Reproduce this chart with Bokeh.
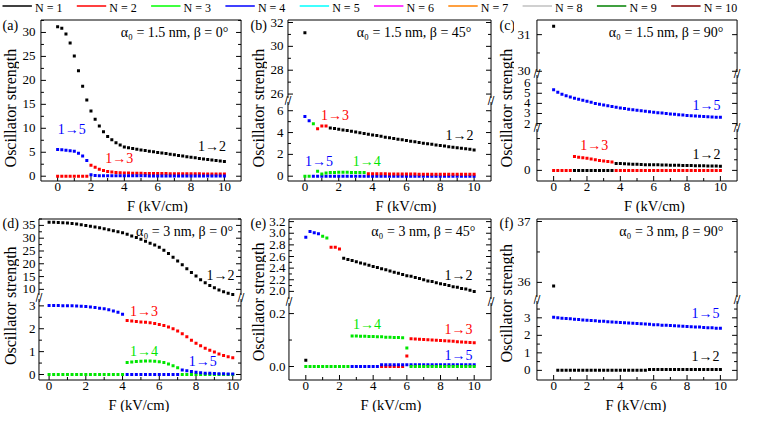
from bokeh.plotting import figure
from bokeh.models import Label, FixedTicker, Range1d
from bokeh.layouts import row, column
from bokeh.embed import file_html
from bokeh.resources import INLINE
from bokeh.core.properties import value

FONT = "Liberation Serif, Times New Roman, serif"
BLACK, RED, GREEN, BLUE = "#000000", "#FF0000", "#00E600", "#0000FF"

LEGEND_LABELS = ["N = 1", "N = 2", "N = 3", "N = 4", "N = 5",
                 "N = 6", "N = 7", "N = 8", "N = 9", "N = 10"]
LEGEND_COLORS = ["#000000", "#FF0000", "#00FF00", "#0000FF", "#00FFFF",
                 "#FF00FF", "#FF8000", "#C0C0C0", "#008000", "#800000"]

FIELD = [0, 0.25, 0.5, 0.75, 1, 1.25, 1.5, 1.75, 2, 2.25, 2.5, 2.75, 3, 3.25, 3.5,
         3.75, 4, 4.25, 4.5, 4.75, 5, 5.25, 5.5, 5.75, 6, 6.25, 6.5, 6.75, 7, 7.25,
         7.5, 7.75, 8, 8.25, 8.5, 8.75, 9, 9.25, 9.5, 9.75, 10]
X_TICKS = [0, 2, 4, 6, 8, 10]
X_MINOR = [1, 3, 5, 7, 9]

# ---- panel (a): alpha0 = 1.5 nm, beta = 0
A_12 = [31.2, 30.9, 29.7, 27.8, 25.1, 22.0, 18.8, 15.9, 13.6, 11.9, 10.5, 9.3, 8.3, 7.6,
        7.0, 6.5, 6.1, 5.93, 5.78, 5.63, 5.48, 5.35, 5.22, 5.09, 4.96, 4.84, 4.72, 4.58,
        4.46, 4.33, 4.2, 4.08, 3.96, 3.84, 3.72, 3.6, 3.49, 3.38, 3.27, 3.16, 3.05]
A_13 = [0, 0, 0, 0, 0, 0, 0, 0, 2.3, 1.85, 1.45, 1.2, 0.97, 0.86, 0.78, 0.72, 0.68, 0.65,
        0.63, 0.61, 0.6, 0.59, 0.58, 0.57, 0.56, 0.55, 0.54, 0.53, 0.52, 0.52, 0.51, 0.5,
        0.5, 0.49, 0.49, 0.48, 0.48, 0.47, 0.47, 0.46, 0.46]
A_15 = [5.6, 5.5, 5.4, 5.3, 5.2, 4.8, 4.2, 3.3, 0.3, 0.15, 0.12, 0.1, 0.1, 0.09, 0.09,
        0.08, 0.08, 0.08, 0.07, 0.07, 0.07, 0.07, 0.06, 0.06, 0.06, 0.06, 0.06, 0.05,
        0.05, 0.05, 0.05, 0.05, 0.05, 0.05, 0.04, 0.04, 0.04, 0.04, 0.04, 0.04, 0.04]

# ---- panel (b): alpha0 = 1.5 nm, beta = 45
B_UP_12 = [31.15]
B_TOP_15 = [5.47, 5.09]
B_TOP_14 = [4.8]
B_TOP_13 = [4.35, 4.6, 4.6]
B_TOP_12 = [4.42, 4.36, 4.3, 4.24, 4.18, 4.11, 4.05, 3.98, 3.92, 3.85, 3.78, 3.72, 3.65,
            3.58, 3.52, 3.46, 3.39, 3.33, 3.27, 3.21, 3.15, 3.09, 3.03, 2.98, 2.92, 2.87,
            2.81, 2.76, 2.71, 2.66, 2.61, 2.56, 2.51, 2.46, 2.41]
B_LOW_14_F = FIELD[0:2] + FIELD[3:15]
B_LOW_14 = [0, 0, 0.45, 0.2, 0.3, 0.33, 0.35, 0.36, 0.36, 0.36, 0.35, 0.35, 0.34, 0.34]
B_LOW_15 = [0, 0, 0, 0, 0, 0, 0, 0, 0, 0, 0, 0, 0, 0, 0, 0, 0, 0, 0, 0, 0, 0, 0, 0, 0,
            0, 0, 0, 0, 0, 0, 0, 0, 0, 0, 0, 0, 0, 0]
B_LOW_13 = [0.23, 0.23, 0.22, 0.22, 0.22, 0.21, 0.21, 0.21, 0.2, 0.2, 0.2, 0.2, 0.19,
            0.19, 0.19, 0.19, 0.18, 0.18, 0.18, 0.18, 0.18, 0.17, 0.17, 0.17, 0.17, 0.17]

# ---- panel (c): alpha0 = 1.5 nm, beta = 90
C_UP_12 = [31.23]
C_MID_15 = [5.35, 5.1, 4.9, 4.75, 4.62, 4.5, 4.4, 4.3, 4.2, 4.1, 4.0, 3.92, 3.84, 3.76,
            3.69, 3.62, 3.55, 3.49, 3.43, 3.37, 3.32, 3.27, 3.22, 3.17, 3.12, 3.08, 3.04,
            3.0, 2.96, 2.92, 2.88, 2.85, 2.81, 2.78, 2.75, 2.72, 2.69, 2.67, 2.65, 2.63, 2.62]
C_LOW_13 = [0, 0, 0, 0, 0, 0.65, 0.62, 0.6, 0.57, 0.54, 0.5, 0.47, 0.44, 0.42, 0.4,
            0, 0, 0, 0, 0, 0, 0, 0, 0, 0, 0, 0, 0, 0, 0, 0, 0, 0, 0, 0, 0, 0, 0, 0, 0, 0]
C_LOW_12 = [0, 0, 0, 0, 0, 0, 0, 0, 0, 0, 0.33, 0.32, 0.31, 0.3, 0.29, 0.29, 0.28, 0.27,
            0.27, 0.26, 0.26, 0.25, 0.25, 0.24, 0.24, 0.24, 0.23, 0.23, 0.23, 0.22, 0.22,
            0.22, 0.21, 0.21, 0.21, 0.2]

# ---- panel (d): alpha0 = 3 nm, beta = 0
D_UP_12 = [36.2, 36.2, 36.1, 36.0, 35.9, 35.7, 35.5, 35.3, 35.0, 34.7, 34.4, 34.1, 33.7,
           33.3, 32.9, 32.5, 32.1, 31.5, 30.9, 30.3, 29.6, 28.8, 28.0, 27.3, 26.5, 25.3,
           24.0, 22.6, 21.1, 19.6, 18.1, 16.6, 15.2, 13.8, 12.6, 11.5, 10.6, 9.8, 9.1,
           8.5, 8.0]
D_LOW_15 = [3.02, 3.02, 3.02, 3.01, 3.01, 3.0, 2.99, 2.98, 2.97, 2.95, 2.93, 2.9, 2.87,
            2.83, 2.78, 2.72, 2.63, 0, 0, 0, 0, 0, 0, 0, 0, 0, 0, 0, 0, 0.2, 0.16, 0.13,
            0.1, 0.08, 0.06, 0.05, 0.04, 0.03, 0.03, 0.02, 0.02]
D_LOW_13 = [2.36, 2.34, 2.32, 2.3, 2.28, 2.26, 2.23, 2.19, 2.14, 2.08, 2.0, 1.9, 1.78,
            1.65, 1.5, 1.37, 1.26, 1.15, 1.06, 0.98, 0.9, 0.83, 0.78, 0.73]
D_LOW_14 = [0, 0, 0, 0, 0, 0, 0, 0, 0, 0, 0, 0, 0, 0, 0, 0, 0, 0.52, 0.55, 0.57, 0.58,
            0.59, 0.59, 0.58, 0.56, 0.52, 0.46, 0.38, 0.3, 0, 0, 0, 0, 0, 0, 0, 0, 0, 0,
            0, 0]

# ---- panel (e): alpha0 = 3 nm, beta = 45
E_UP_15 = [2.93, 3.03, 3.01, 2.99]
E_UP_14 = [2.95, 2.92]
E_UP_13 = [2.76, 2.76, 2.73]
E_UP_12 = [2.57, 2.55, 2.53, 2.51, 2.49, 2.47, 2.45, 2.43, 2.41, 2.39, 2.37, 2.35, 2.33,
           2.31, 2.29, 2.27, 2.26, 2.24, 2.22, 2.2, 2.18, 2.17, 2.15, 2.13, 2.12, 2.1,
           2.08, 2.07, 2.05, 2.04, 2.02, 2.0]
E_LOW_12 = [0.024]
E_LOW_14 = [0, 0, 0, 0, 0, 0, 0, 0, 0, 0, 0, 0.115, 0.115, 0.114, 0.114, 0.113, 0.113,
            0.112, 0.112, 0.111, 0.111, 0.11, 0.11, 0.109, 0.07, 0, 0, 0, 0, 0, 0, 0, 0,
            0, 0, 0, 0, 0, 0, 0, 0]
E_LOW_13 = [0, 0, 0, 0, 0, 0, 0.04, 0.105, 0.104, 0.103, 0.102, 0.101, 0.1, 0.099, 0.098,
            0.097, 0.096, 0.095, 0.094, 0.093, 0.092, 0.091, 0.09]
E_LOW_15 = [0, 0, 0, 0, 0, 0, 0, 0.007, 0.007, 0.007, 0.007, 0.007, 0.007, 0.007, 0.007,
            0.007, 0.007, 0.007, 0.007, 0.007, 0.007, 0.007, 0.007, 0.007, 0.007, 0.007,
            0.007, 0.007, 0.007, 0.007]

# ---- panel (f): alpha0 = 3 nm, beta = 90
F_UP_12 = [35.94]
F_LOW_15 = [3.03, 3.0, 2.98, 2.96, 2.94, 2.92, 2.9, 2.88, 2.86, 2.85, 2.83, 2.81, 2.8,
            2.78, 2.76, 2.75, 2.73, 2.72, 2.7, 2.69, 2.67, 2.66, 2.64, 2.63, 2.61, 2.6,
            2.58, 2.57, 2.56, 2.54, 2.53, 2.52, 2.5, 2.49, 2.48, 2.47, 2.45, 2.44, 2.43,
            2.41, 2.4]
F_LOW_12 = [0, 0, 0, 0, 0, 0, 0, 0, 0, 0, 0, 0, 0, 0, 0, 0, 0, 0, 0, 0, 0, 0, 0.05, 0.05,
            0.05, 0.05, 0.05, 0.05, 0.05, 0.05, 0.05, 0.05, 0.05, 0.05, 0.05, 0.05, 0.05,
            0.05, 0.05, 0.05]

# layout constants (px)
ML, MR, MT, MB = 3.5, 4.5, 2.5, 1.5   # frame padding around the drawn box
SPINE_H = 161
FH = 165                               # SPINE_H + MT + MB
TOP_B, BOT_B, STRIP_H = 3, 15, 16


def blank_fig(w, h, xr=(0, 1), yr=(0, 1)):
    p = figure(width=w, height=h, x_range=Range1d(*xr), y_range=Range1d(*yr),
               output_backend="svg", toolbar_location=None, min_border=0,
               x_axis_location=None, y_axis_location=None)
    p.outline_line_color = None
    p.grid.visible = False
    p.border_fill_color = "white"
    p.background_fill_color = "white"
    return p


def labels_only(ax, ticks, overrides, standoff):
    ax.ticker = FixedTicker(ticks=ticks, minor_ticks=[])
    if overrides:
        ax.major_label_overrides = overrides
    ax.axis_line_color = None
    ax.major_tick_line_color = None
    ax.minor_tick_line_color = None
    ax.major_tick_in = 0
    ax.major_tick_out = 0
    ax.minor_tick_in = 0
    ax.minor_tick_out = 0
    ax.major_label_text_font = FONT
    ax.major_label_text_color = "black"
    ax.major_label_text_font_size = "13px"
    ax.major_label_standoff = standoff


def tick_rays(p, x, ys, angle, length, nm="default"):
    if ys:
        p.ray(x=x, y=ys, length=length, length_units="screen", angle=angle,
              angle_units="deg", line_color="black", line_width=1, y_range_name=nm)


def xlab_fig(w, h, x, y):
    p = blank_fig(w, h)
    p.add_layout(Label(x=x, y=y, x_units="screen", y_units="screen", text="F (kV/cm)",
                       text_font=FONT, text_font_size="14.5px", text_color="black",
                       text_align="center", text_baseline="middle"))
    return p


def build_panel(cfg):
    segs = cfg["segs"]
    n = len(segs)
    W, bl, br = cfg["width"], cfg["bl"], cfg["br"]
    FW = W - bl - br
    x_lo, x_hi = cfg["xr"]
    kx = (FW - ML - MR) / (x_hi - x_lo)
    # offset of every segment above the bottom spine
    offs = [0] * n
    b = 0
    for i in range(n - 1, -1, -1):
        offs[i] = b
        if i > 0:
            b += segs[i]["h"] + segs[i]["gap"]
    ranges = []
    for i, s in enumerate(segs):
        lo, hi = s["yr"]
        k = s["h"] / (hi - lo)
        start = lo - (offs[i] + MB) / k
        ranges.append((start, start + FH / k))
    names = ["default" if i == n - 1 else "s%d" % i for i in range(n)]
    main = ranges[-1]
    p = figure(width=W, height=TOP_B + FH + BOT_B,
               x_range=Range1d(x_lo - ML / kx, x_hi + MR / kx), y_range=Range1d(*main),
               output_backend="svg", toolbar_location=None,
               min_border_left=bl, min_border_right=br,
               min_border_top=TOP_B, min_border_bottom=BOT_B)
    p.extra_y_ranges = {names[i]: Range1d(*ranges[i]) for i in range(n - 1)}
    p.outline_line_color = None
    p.grid.visible = False
    p.background_fill_color = "white"
    p.border_fill_color = "white"

    # y tick labels: one axis on the bottom range, segment ticks placed through their ranges
    pos, over = [], {}
    for i, s in enumerate(segs):
        st, en = ranges[i]
        for t in s["ticks"]:
            m = round(main[0] + (t - st) / (en - st) * (main[1] - main[0]), 9)
            pos.append(m)
            over[m] = ("%.1f" % t) if s.get("fmt") else ("%g" % t)
    labels_only(p.yaxis[0], pos, over, cfg["std"])
    labels_only(p.xaxis[0], X_TICKS, None, 0)

    # drawn box: spines, ticks, break marks
    for i, s in enumerate(segs):
        lo, hi = s["yr"]
        nm = names[i]
        for xs in (x_lo, x_hi):
            p.segment(x0=xs, y0=lo, x1=xs, y1=hi, line_color="black", line_width=1,
                      y_range_name=nm)
        tick_rays(p, x_lo, s["ticks"], 0, 5, nm)
        tick_rays(p, x_lo, s["minor"], 0, 3, nm)
        tick_rays(p, x_hi, s["ticks"], 180, 5, nm)
        tick_rays(p, x_hi, s["minor"], 180, 3, nm)
        if i > 0:
            yb = MB + offs[i] + s["h"] + s["gap"] / 2
            for bx in (x_lo, x_hi):
                p.add_layout(Label(x=bx, y=yb, x_units="data", y_units="screen",
                                   text="//", text_font="DejaVu Sans",
                                   text_font_size="10px", text_color="black",
                                   text_align="center", text_baseline="middle"))
    top_hi = segs[0]["yr"][1]
    bot_lo = segs[-1]["yr"][0]
    p.segment(x0=x_lo, y0=top_hi, x1=x_hi, y1=top_hi, line_color="black", line_width=1,
              y_range_name=names[0])
    p.segment(x0=x_lo, y0=bot_lo, x1=x_hi, y1=bot_lo, line_color="black", line_width=1)
    p.ray(x=X_TICKS, y=bot_lo, length=5, length_units="screen", angle=90,
          angle_units="deg", line_color="black", line_width=1)
    p.ray(x=X_MINOR, y=bot_lo, length=3, length_units="screen", angle=90,
          angle_units="deg", line_color="black", line_width=1)

    # data
    for i, s in enumerate(segs):
        nm = names[i]
        for c, xs, ys in s["series"]:
            p.scatter(x=xs, y=ys, marker="square", size=3, fill_color=c, line_color=None,
                      y_range_name=nm)
        for tx, ty, t, c, al in s.get("texts", []):
            p.text(x=[tx], y=[ty], text=[t], text_font=value(FONT),
                   text_font_size=value("14px"), text_color=c, text_align=al,
                   text_baseline="middle", y_range_name=nm)
    txt, inr, intop = cfg["annot"]
    p.add_layout(Label(x=FW - MR - inr, y=FH - MT - intop, x_units="screen",
                       y_units="screen", text=txt, text_font=FONT, text_font_size="14px",
                       text_color="black", text_align="right", text_baseline="middle"))
    return column(p, xlab_fig(W, STRIP_H, cfg["xlab_x"], STRIP_H / 2))


def build_ylab(w, h, letter, lx, ly, yx, yy):
    p = blank_fig(w, h)
    p.add_layout(Label(x=lx, y=ly, x_units="screen", y_units="screen", text=letter,
                       text_font=FONT, text_font_size="14px", text_color="black",
                       text_align="left", text_baseline="middle"))
    p.add_layout(Label(x=yx, y=yy, x_units="screen", y_units="screen",
                       text="Oscillator strength", text_font=FONT, text_font_size="16px",
                       text_color="black", angle=90, angle_units="deg",
                       text_align="center", text_baseline="middle"))
    return p


cfg_a = dict(width=226, bl=15, br=0, xr=(-1, 11), std=2, xlab_x=120,
             annot=("α₀ = 1.5 nm, β = 0°", 15.7, 12.2),
             segs=[dict(yr=(-1.0, 32.6), h=161, ticks=[0, 5, 10, 15, 20, 25, 30],
                        minor=[2.5, 7.5, 12.5, 17.5, 22.5, 27.5, 32.5],
                        series=[(RED, FIELD, A_13), (BLUE, FIELD, A_15), (BLACK, FIELD, A_12)],
                        texts=[(0.0, 9.7, "1→5", BLUE, "left"),
                               (2.85, 3.7, "1→3", RED, "left"),
                               (10.1, 6.1, "1→2", BLACK, "right")])])

cfg_b = dict(width=228, bl=16, br=0, xr=(-1, 11), std=1, xlab_x=121.5,
             annot=("α₀ = 1.5 nm, β = 45°", 20.6, 12.2),
             segs=[dict(yr=(25.67, 32.21), h=78, ticks=[26, 28, 30, 32], minor=[27, 29, 31],
                        series=[(BLACK, FIELD[0:1], B_UP_12)]),
                   dict(yr=(-0.44, 6.8), h=79, gap=4, ticks=[0, 2, 4, 6], minor=[1, 3, 5],
                        series=[(BLUE, FIELD[2:], B_LOW_15), (RED, FIELD[15:], B_LOW_13),
                                (GREEN, B_LOW_14_F, B_LOW_14),
                                (BLUE, FIELD[0:2], B_TOP_15), (GREEN, FIELD[2:3], B_TOP_14),
                                (RED, FIELD[3:6], B_TOP_13), (BLACK, FIELD[6:], B_TOP_12)],
                        texts=[(0.95, 5.6, "1→3", RED, "left"),
                               (9.96, 3.7, "1→2", BLACK, "right"),
                               (0.0, 1.35, "1→5", BLUE, "left"),
                               (2.83, 1.35, "1→4", GREEN, "left")])])

cfg_c = dict(width=230, bl=16, br=3, xr=(-1, 11), std=3, xlab_x=121,
             annot=("α₀ = 1.5 nm, β = 90°", 16.6, 12.2),
             segs=[dict(yr=(29.98, 31.4), h=52, ticks=[30, 31], minor=[30.5],
                        series=[(BLACK, FIELD[0:1], C_UP_12)]),
                   dict(yr=(1.76, 6.81), h=51, gap=3, ticks=[2, 3, 4, 5, 6], minor=[],
                        series=[(BLUE, FIELD, C_MID_15)],
                        texts=[(10.0, 3.83, "1→5", BLUE, "right")]),
                   dict(yr=(-0.5, 1.95), h=52, gap=3, ticks=[0], minor=[0.5, 1.0, 1.5],
                        series=[(BLACK, FIELD[5:], C_LOW_12), (RED, FIELD, C_LOW_13)],
                        texts=[(1.6, 1.18, "1→3", RED, "left"),
                               (10.0, 0.73, "1→2", BLACK, "right")])])

cfg_d = dict(width=226, bl=15, br=0, xr=(-0.55, 10.45), std=0, xlab_x=103.5,
             annot=("α₀ = 3 nm, β = 0°", 8.8, 12.5),
             segs=[dict(yr=(7.8, 37.5), h=76, ticks=[10, 15, 20, 25, 30, 35],
                        minor=[12.5, 17.5, 22.5, 27.5, 32.5, 37.5],
                        series=[(BLACK, FIELD, D_UP_12)],
                        texts=[(10.1, 15.6, "1→2", BLACK, "right")]),
                   dict(yr=(-0.24, 3.3), h=81, gap=4, ticks=[0, 1, 2, 3],
                        minor=[0.5, 1.5, 2.5],
                        series=[(GREEN, FIELD, D_LOW_14), (BLUE, FIELD, D_LOW_15),
                                (RED, FIELD[17:], D_LOW_13)],
                        texts=[(4.4, 2.75, "1→3", RED, "left"),
                               (4.4, 0.99, "1→4", GREEN, "left"),
                               (7.6, 0.57, "1→5", BLUE, "left")])])

cfg_e = dict(width=229, bl=17, br=0, xr=(-1, 11), std=0, xlab_x=105.5,
             annot=("α₀ = 3 nm, β = 45°", 17.6, 12.5),
             segs=[dict(yr=(1.869, 3.245), h=80, ticks=[2.0, 2.2, 2.4, 2.6, 2.8, 3.0, 3.2],
                        minor=[2.1, 2.3, 2.5, 2.7, 2.9, 3.1], fmt="0.0",
                        series=[(BLUE, FIELD[0:4], E_UP_15), (GREEN, FIELD[4:6], E_UP_14),
                                (RED, FIELD[6:9], E_UP_13), (BLACK, FIELD[9:], E_UP_12)],
                        texts=[(9.9, 2.27, "1→2", BLACK, "right")]),
                   dict(yr=(-0.051, 0.24), h=77, gap=4, ticks=[0.0, 0.2], minor=[0.1],
                        fmt="0.0",
                        series=[(BLACK, FIELD[0:1], E_LOW_12), (RED, FIELD[18:], E_LOW_13),
                                (BLUE, FIELD[11:], E_LOW_15), (GREEN, FIELD, E_LOW_14)],
                        texts=[(2.8, 0.158, "1→4", GREEN, "left"),
                               (9.9, 0.14, "1→3", RED, "right"),
                               (9.9, 0.042, "1→5", BLUE, "right")])])

cfg_f = dict(width=230, bl=16, br=3, xr=(-1, 11), std=3, xlab_x=102.5,
             annot=("α₀ = 3 nm, β = 90°", 16.6, 12.5),
             segs=[dict(yr=(35.76, 37.041), h=78, ticks=[36, 37], minor=[36.5],
                        series=[(BLACK, FIELD[0:1], F_UP_12)]),
                   dict(yr=(-0.55, 3.96), h=79, gap=4, ticks=[0, 1, 2, 3],
                        minor=[0.5, 1.5, 2.5, 3.5],
                        series=[(BLUE, FIELD, F_LOW_15), (BLACK, FIELD[1:], F_LOW_12)],
                        texts=[(9.94, 3.27, "1→5", BLUE, "right"),
                               (9.94, 0.82, "1→2", BLACK, "right")])])

# legend strip (pixel coordinates inside a 744 x 14 strip)
LEG_W, LEG_H, LEG_STEP = 744, 14, 74.3
lg = blank_fig(LEG_W, LEG_H, (0, LEG_W), (0, LEG_H))
leg_x0 = [2 + LEG_STEP * i for i in range(len(LEGEND_LABELS))]
lg.segment(x0=leg_x0, y0=8.5, x1=[x + 29.4 for x in leg_x0], y1=8.5,
           line_color=LEGEND_COLORS, line_width=1.5)
lg.text(x=[x + 32.5 for x in leg_x0], y=7, text=LEGEND_LABELS, text_font=value(FONT),
        text_font_size=value("12px"), text_color="black", text_align="left",
        text_baseline="middle")

ROW_H = TOP_B + FH + BOT_B + STRIP_H
row1 = row(build_ylab(19, ROW_H, "(a)", 2, 188, 10, 105.4), build_panel(cfg_a),
           build_ylab(22, ROW_H, "(b)", 5, 188, 12.5, 105.4), build_panel(cfg_b),
           build_ylab(19, ROW_H, "(c)", 4, 188, 11, 105.4), build_panel(cfg_c))
row2 = row(build_ylab(19, ROW_H, "(d)", 2, 189, 10, 106.8), build_panel(cfg_d),
           build_ylab(21, ROW_H, "(e)", 5, 189, 12.5, 110.6), build_panel(cfg_e),
           build_ylab(19, ROW_H, "(f)", 4, 189, 11, 109.2), build_panel(cfg_f))

root = column(lg, row1, row2)

open("out.html", "w").write(file_html(root, INLINE))
